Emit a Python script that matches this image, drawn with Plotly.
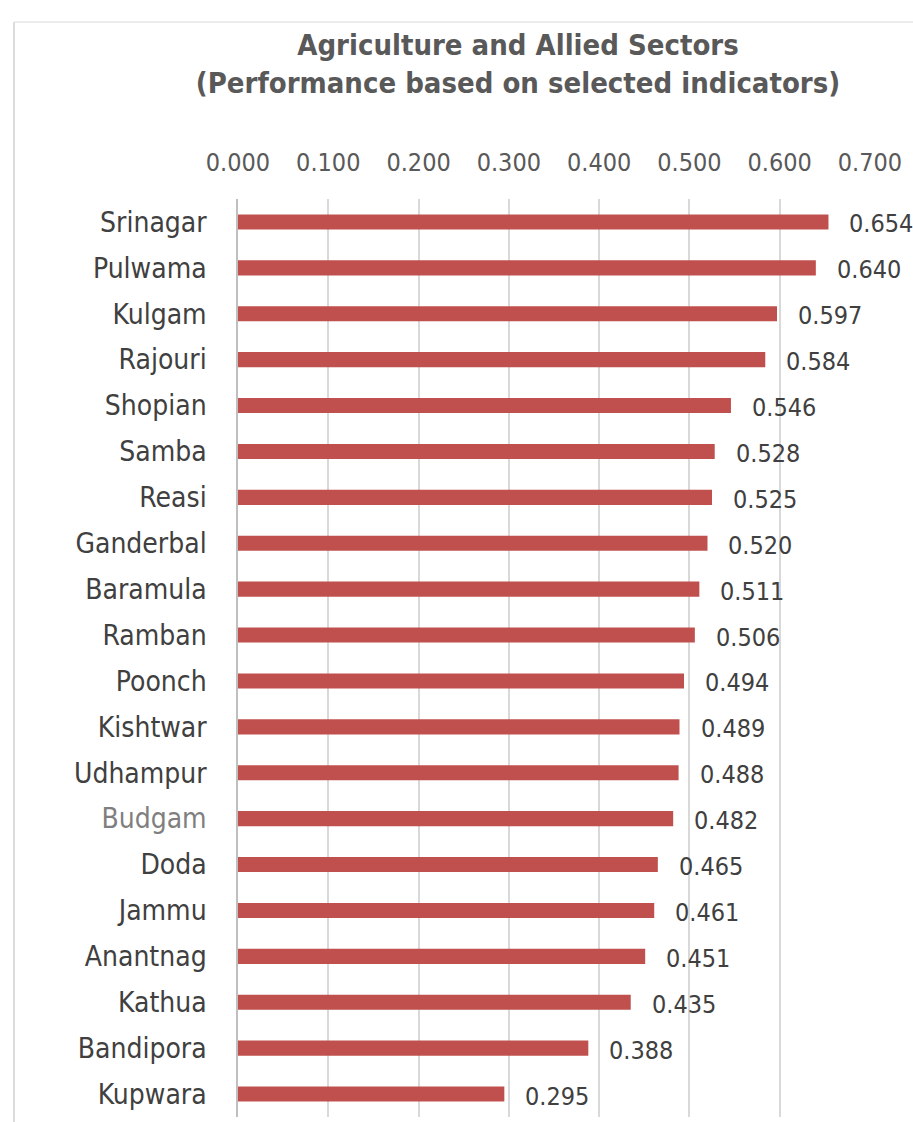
import plotly.graph_objects as go

districts = ["Srinagar", "Pulwama", "Kulgam", "Rajouri", "Shopian", "Samba", "Reasi",
             "Ganderbal", "Baramula", "Ramban", "Poonch", "Kishtwar", "Udhampur", "Budgam",
             "Doda", "Jammu", "Anantnag", "Kathua", "Bandipora", "Kupwara"]
scores = [0.654, 0.640, 0.597, 0.584, 0.546, 0.528, 0.525, 0.520, 0.511, 0.506,
          0.494, 0.489, 0.488, 0.482, 0.465, 0.461, 0.451, 0.435, 0.388, 0.295]
x_ticks = [0.0, 0.1, 0.2, 0.3, 0.4, 0.5, 0.6, 0.7]

FONT = "DejaVu Sans Condensed"
BAR = "#C0504D"

ticktext = [f'<span style="color:#7F7F7F">{d}</span>' if d == "Budgam" else d for d in districts]

fig = go.Figure(go.Bar(
    x=scores, y=districts, orientation="h",
    marker=dict(color=BAR, line=dict(width=0)),
    width=0.33, hoverinfo="x+y",
))

for d, v in zip(districts, scores):
    fig.add_annotation(x=v, y=d, text=f"{v:.3f}", showarrow=False,
                       xanchor="left", yanchor="middle", xshift=19, yshift=-2,
                       font=dict(family=FONT, size=25, color="#404040"))

W, H = 913, 1122
L, R, T, B = 238, 43, 199, 5
pw, ph = W - L - R, H - T - B

def px2paper_x(px):
    return (px - L) / pw

def py2paper_y(py):
    return (H - B - py) / ph

# chart border (left and top)
fig.add_shape(type="line", xref="paper", yref="paper",
              x0=px2paper_x(14), x1=px2paper_x(14), y0=py2paper_y(22), y1=py2paper_y(H + 5),
              line=dict(color="#D0D0D0", width=1.5))
fig.add_shape(type="line", xref="paper", yref="paper",
              x0=px2paper_x(14), x1=px2paper_x(W + 5), y0=py2paper_y(22), y1=py2paper_y(22),
              line=dict(color="#E6E6E6", width=1.5))

fig.update_layout(
    width=W, height=H,
    margin=dict(l=L, r=R, t=T, b=B),
    paper_bgcolor="white", plot_bgcolor="white",
    showlegend=False,
    bargap=0.67,
    title=dict(text="Agriculture and Allied Sectors<br>(Performance based on selected indicators)",
               x=518 / W, xanchor="center", y=1 - 55 / H, yanchor="middle",
               font=dict(family=FONT, size=29, color="#595959", weight="bold")),
    xaxis=dict(side="top", range=[0, 0.7], tickvals=x_ticks, tickformat=".3f",
               showgrid=True, gridcolor="#D9D9D9", gridwidth=1.5,
               zeroline=False, showline=False, ticks="",
               ticklabelstandoff=22,
               tickfont=dict(family=FONT, size=25, color="#595959")),
    yaxis=dict(autorange="reversed", tickvals=districts, ticktext=ticktext,
               showgrid=False, zeroline=False, showline=True, linecolor="#BFBFBF", linewidth=1.5,
               ticks="", ticklabelstandoff=24,
               tickfont=dict(family=FONT, size=28, color="#404040")),
)

fig.write_html("out.html", config={"displayModeBar": False},
               post_script="document.body.style.margin='0';document.body.style.overflow='hidden';")
